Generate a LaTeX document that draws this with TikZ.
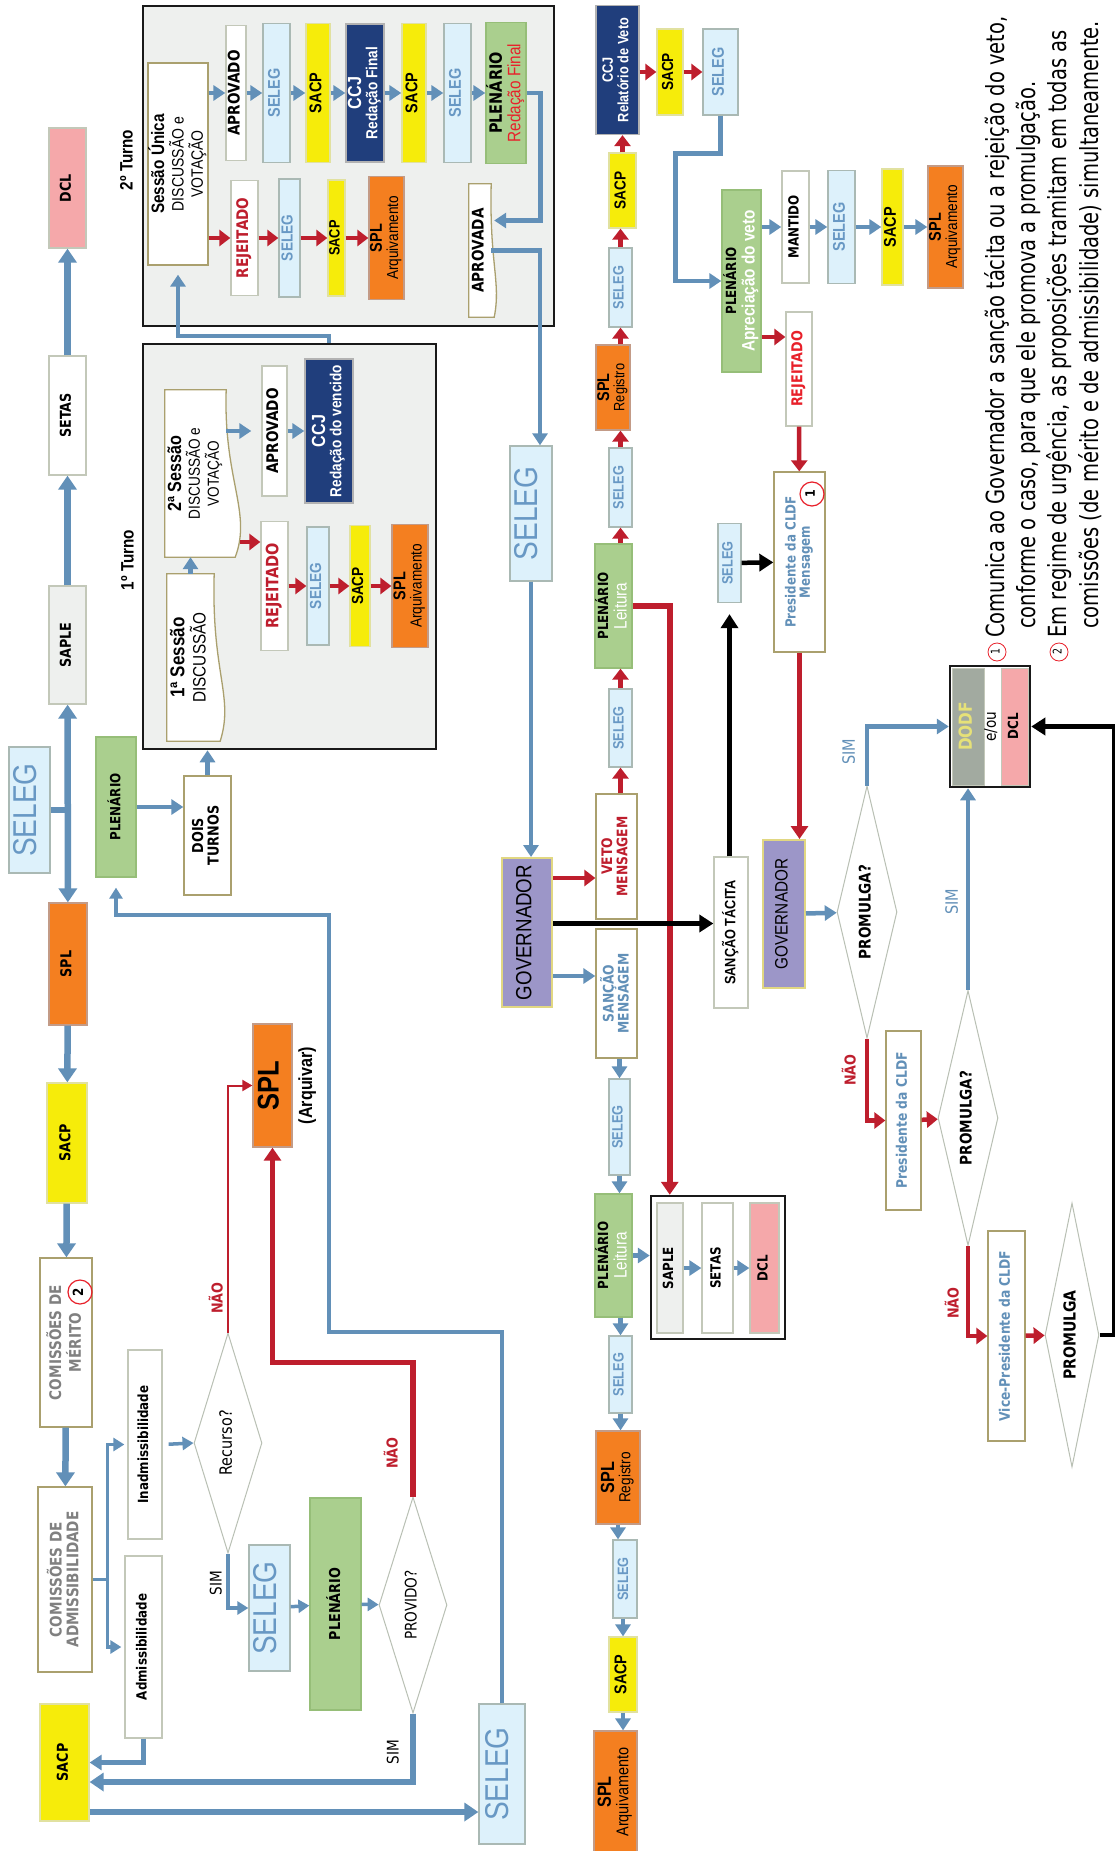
\documentclass[tikz,border=0pt]{standalone}
\usepackage{fontspec}
\usepackage{graphicx}
\setmainfont{Liberation Sans}[FakeStretch=0.85]
\newfontfamily\vrd{DejaVu Sans}[FakeStretch=0.85]
\newfontfamily\ftn{DejaVu Sans}[FakeStretch=0.78]
\usetikzlibrary{arrows.meta,shapes.geometric,calc}
\definecolor{cBl}{RGB}{98,144,184}
\definecolor{cRd}{RGB}{190,30,45}
\definecolor{cRdB}{RGB}{232,32,42}
\definecolor{selF}{RGB}{221,241,251}
\definecolor{selD}{RGB}{170,185,180}
\definecolor{selT}{RGB}{104,152,196}
\definecolor{sacF}{RGB}{246,236,10}
\definecolor{sacD}{RGB}{225,225,160}
\definecolor{splF}{RGB}{244,127,32}
\definecolor{splD}{RGB}{195,155,135}
\definecolor{dclF}{RGB}{245,168,170}
\definecolor{ccjF}{RGB}{32,62,124}
\definecolor{plF}{RGB}{170,207,142}
\definecolor{plD}{RGB}{150,190,120}
\definecolor{govF}{RGB}{156,150,200}
\definecolor{govD}{RGB}{225,215,130}
\definecolor{gryF}{RGB}{238,240,238}
\definecolor{olD}{RGB}{170,160,110}
\definecolor{gyD}{RGB}{195,200,185}
\definecolor{txG}{RGB}{128,128,128}
\definecolor{dodF}{RGB}{162,170,160}
\definecolor{dodT}{RGB}{230,225,120}
\definecolor{dmD}{RGB}{185,192,180}
\newcommand{\rt}[1]{\rotatebox{90}{\begin{tabular}{@{}c@{}}#1\end{tabular}}}
\newcommand{\fsz}[1]{\fontsize{#1}{#1}\selectfont}
\begin{document}
\begin{tikzpicture}[x=1pt,y=-1pt,
  sz/.style 2 args={minimum width=#1,minimum height=#2},
  vb/.style={font=\vrd\bfseries\fsz{#1}},
  cb/.style={font=\bfseries\fsz{#1}},
  cr/.style={font=\fsz{#1}},
  bx/.style={draw,inner sep=0pt,line width=1.3pt},
  sel/.style={bx,fill=selF,draw=selD,text=selT,cb=16},
  bigsel/.style={bx,fill=selF,draw=selD,text=selT,cr=33},
  sac/.style={bx,fill=sacF,draw=sacD,cb=16},
  spl/.style={bx,fill=splF,draw=splD},
  ccj/.style={bx,fill=ccjF,draw=gray!60,text=white},
  plen/.style={bx,fill=plF,draw=plD},
  gov/.style={bx,fill=govF,draw=govD,line width=2pt},
  wo/.style={bx,fill=white,draw=olD},
  wg/.style={bx,fill=white,draw=gyD},
  doc/.style={fill=white,draw=olD,line width=1.3pt},
  dmd/.style={diamond,draw=dmD,line width=1pt,fill=white,inner sep=0pt,shape aspect=0.3},
  turno/.style={draw=black!90,line width=2.5pt,inner sep=0pt},
  lbl/.style={inner sep=0pt},
  note/.style={rotate=90,anchor=west,inner sep=0pt,font=\ftn\fsz{25}},
  ba/.style={draw=cBl,line width=4.5pt,-{Triangle[length=12pt,width=15pt]}},
  bs/.style={draw=cBl,line width=3.5pt,-{Triangle[length=11pt,width=13pt]}},
  bA/.style={draw=cBl,line width=6.5pt,-{Triangle[length=14pt,width=18pt]}},
  ra/.style={draw=cRd,line width=4.5pt,-{Triangle[length=11pt,width=16pt]}},
  rA/.style={draw=cRd,line width=5.5pt,-{Triangle[length=13pt,width=17pt]}},
  ka/.style={draw=black,line width=4.5pt,-{Triangle[length=14pt,width=17pt]}}]
\fill[white] (0,0) rectangle (1115,1851);
\useasboundingbox (0,0) rectangle (1115,1851);
% left column
\node[bx,fill=dclF,draw=gyD,sz={37}{120},vb=15] (dclA) at (67.5,188) {\rt{DCL}};
\node[wg,sz={37}{119},vb=15] (setasA) at (67.5,415.5) {\rt{SETAS}};
\node[bx,fill=gryF,draw=gyD,sz={37}{118},vb=15] (sapleA) at (67.5,645) {\rt{SAPLE}};
\node[bigsel,sz={41}{126}] (selA) at (29.5,810) {\rt{SELEG}};
\node[spl,sz={38}{122},vb=15] (splA) at (68,964) {\rt{SPL}};
\node[sac,sz={40}{120},vb=15] (sacA) at (67,1143) {\rt{SACP}};
\node[wo,sz={52}{169},vb=16,text=txG] (merito) at (66,1342.5) {\rt{COMISSÕES DE\\MÉRITO}};
\node[circle,draw=cRdB,line width=1.2pt,inner sep=0pt,minimum size=24,vb=14] (n2) at (80,1292) {\rt{2}};
\node[wo,sz={54}{185},vb=16,text=txG] (admc) at (65,1579.5) {\rt{COMISSÕES DE\\ADMISSIBILIDADE}};
\node[wg,sz={34}{189},vb=14] (inadm) at (145,1444.5) {\rt{Inadmissibilidade}};
\node[wg,sz={37}{182},vb=14] (adm) at (143.5,1647) {\rt{Admissibilidade}};
\node[sac,sz={49}{117},vb=15] (sacB) at (64.5,1762.5) {\rt{SACP}};
\node[dmd,sz={68}{220},font=\vrd\fsz{17}] (rec) at (228,1443) {\rt{Recurso?}};
\node[bigsel,sz={41}{126}] (selB) at (269.5,1608) {\rt{SELEG}};
\node[plen,sz={51}{212},vb=15] (plB) at (335.5,1604) {\rt{PLENÁRIO}};
\node[dmd,sz={68}{216},font=\vrd\fsz{16}] (prov) at (413,1605) {\rt{PROVIDO?}};
\node[spl,sz={39}{123},cb=30] (splX) at (272.5,1085.5) {\rt{SPL}};
\node[lbl,cb=19] (arq) at (308,1085.5) {\rt{(Arquivar)}};
\node[bigsel,sz={46}{140}] (selC) at (502,1774) {\rt{SELEG}};
\node[plen,sz={40}{140},vb=14] (plA) at (116,807) {\rt{PLENÁRIO}};
\node[wo,sz={47}{119},vb=15] (dois) at (207.5,835.5) {\rt{DOIS\\TURNOS}};
\node[font=\vrd\fsz{16}] (simR) at (218,1583) {\rt{SIM}};
\node[vb=15,text=cRd] (naoR) at (218,1298) {\rt{NÃO}};
\node[vb=15,text=cRd] (naoP) at (393,1453) {\rt{NÃO}};
\node[font=\vrd\fsz{16}] (simP) at (395,1752) {\rt{SIM}};
% 1o turno
\node[turno,fill=gryF,sz={293}{405}] (t1) at (289.5,546.5) {};
\node[lbl,cb=18] (lt1) at (130,560) {\rt{1º Turno}};
\node[inner sep=0pt,sz={47}{167}] (s1) at (190.5,657.5) {};
\filldraw[doc] (s1.north west) -- (s1.north east) .. controls ($(s1.north east)+(-3,100)$) and ($(s1.south east)+(20,-45)$) .. ($(s1.south east)+(6,0)$) -- (s1.south west) -- cycle;
\node[cr=18] (s1t) at (s1) {\rt{\fsz{20}\bfseries 1ª Sessão\\DISCUSSÃO}};
\node[inner sep=0pt,sz={61}{167}] (s2) at (195.5,473.5) {};
\filldraw[doc] (s2.north west) -- (s2.north east) .. controls ($(s2.north east)+(-3,90)$) and ($(s2.south east)+(26,-45)$) .. ($(s2.south east)+(9,0)$) -- (s2.south west) -- cycle;
\node[cr=16] (s2t) at (s2) {\rt{\fsz{19}\bfseries 2ª Sessão\\DISCUSSÃO e\\VOTAÇÃO}};
\node[wg,sz={25}{130},vb=16] (ap1) at (274.5,431) {\rt{APROVADO}};
\node[ccj,sz={48}{144},cb=16] (ccj1) at (329,431) {\rt{\fsz{19}CCJ\\Redação do vencido}};
\node[wg,sz={27}{129},vb=17,text=cRd] (rj1) at (274.5,586) {\rt{REJEITADO}};
\node[sel,sz={22}{118}] (sl1) at (318,586) {\rt{SELEG}};
\node[sac,sz={20}{121}] (sc1) at (360,586) {\rt{SACP}};
\node[spl,sz={36}{123},cr=16] (sp1) at (410,586) {\rt{\bfseries\fsz{17}SPL\\Arquivamento}};
% 2o turno
\node[turno,fill=gryF,sz={411}{320}] (t2) at (348.5,166) {};
\node[lbl,cb=18] (lt2) at (129,160) {\rt{2º Turno}};
\node[wo,sz={58}{202},cr=16.5] (su) at (178,164) {\rt{\fsz{18}\bfseries Sessão Única\\DISCUSSÃO e\\VOTAÇÃO}};
\node[wg,sz={20}{135},vb=16] (ap2) at (236,93) {\rt{APROVADO}};
\node[sel,sz={27}{139},cb=17] (sl2) at (276.5,93) {\rt{SELEG}};
\node[sac,sz={24}{139},cb=17] (sc2) at (318,93) {\rt{SACP}};
\node[ccj,sz={38}{138},cb=16] (ccj2) at (365,93) {\rt{\fsz{19}CCJ\\Redação Final}};
\node[sac,sz={24}{139},cb=17] (sc3) at (414,93) {\rt{SACP}};
\node[sel,sz={27}{139},cb=17] (sl3) at (457.5,93) {\rt{SELEG}};
\node[plen,sz={40}{141},cr=18] (pl2) at (506,93) {\rt{\vrd\bfseries\fsz{17}PLENÁRIO\\\textcolor{cRdB}{Redação Final}}};
\node[wg,sz={27}{115},vb=16,text=cRd] (rj2) at (244.5,238) {\rt{REJEITADO}};
\node[sel,sz={21}{118}] (sl4) at (289.5,238) {\rt{SELEG}};
\node[sac,sz={17}{116},cb=15] (sc4) at (336.5,238) {\rt{SACP}};
\node[spl,sz={35}{123},cr=16] (sp2) at (386.5,238) {\rt{\bfseries\fsz{17}SPL\\Arquivamento}};
\node[inner sep=0pt,sz={22}{133}] (apv) at (480,250.5) {};
\filldraw[doc] (apv.north west) -- (apv.north east) .. controls ($(apv.north east)+(-2,80)$) and ($(apv.south east)+(10,-35)$) .. ($(apv.south east)+(3,0)$) -- (apv.south west) -- cycle;
\node[vb=16] (apvt) at (apv) {\rt{APROVADA}};
% governador and after
\node[bigsel,sz={42}{135}] (selM) at (531,513.5) {\rt{SELEG}};
\node[gov,sz={50}{149},cr=22] (govA) at (527,932.5) {\rt{GOVERNADOR}};
\node[wo,sz={41}{125},vb=14.5,text=cRd] (veto) at (616.5,856.5) {\rt{VETO\\MENSAGEM}};
\node[wg,sz={34}{151},cb=15] (tac) at (731,932.5) {\rt{SANÇÃO TÁCITA}};
\node[wo,sz={41}{129},vb=14.5,text=cBl] (sanc) at (616.5,993.5) {\rt{SANÇÃO\\MENSAGEM}};
\node[sel,sz={21}{96},cb=15] (slL1) at (619.5,1127) {\rt{SELEG}};
\node[plen,sz={35}{123},cr=18] (plL) at (613.5,1255.5) {\rt{\vrd\bfseries\fsz{14}PLENÁRIO\\\textcolor{white}{Leitura}}};
\node[turno,fill=white,sz={134}{143}] (grp) at (718,1267.5) {};
\node[bx,fill=gryF,draw=gyD,sz={26}{130},vb=14] (saple2) at (670,1268) {\rt{SAPLE}};
\node[wg,sz={31}{130},vb=14] (setas2) at (717.5,1268) {\rt{SETAS}};
\node[bx,fill=dclF,draw=gyD,sz={29}{130},vb=14] (dcl2) at (764.5,1268) {\rt{DCL}};
\node[sel,sz={23}{77},cb=15] (slL2) at (620.5,1374.5) {\rt{SELEG}};
\node[spl,sz={44}{93},cr=16] (spR) at (618,1477.5) {\rt{\bfseries\fsz{19}SPL\\Registro}};
\node[sel,sz={24}{78},cb=15] (slL3) at (625,1579) {\rt{SELEG}};
\node[sac,sz={28}{75},cb=17] (scL) at (623,1674.5) {\rt{SACP}};
\node[spl,sz={43}{122},cr=17] (spAq) at (615.5,1792) {\rt{\bfseries\fsz{19}SPL\\Arquivamento}};
% veto
\node[sel,sz={23}{78},cb=15] (slU1) at (620.5,728) {\rt{SELEG}};
\node[plen,sz={35}{124},cr=18] (plU) at (613.5,606) {\rt{\vrd\bfseries\fsz{14}PLENÁRIO\\\textcolor{white}{Leitura}}};
\node[sel,sz={23}{79},cb=15] (slU2) at (620.5,487.5) {\rt{SELEG}};
\node[spl,sz={34}{85},cr=15] (spRU) at (613,387.5) {\rt{\bfseries\fsz{17}SPL\\Registro}};
\node[sel,sz={23}{79},cb=15] (slU3) at (620.5,287.5) {\rt{SELEG}};
\node[sac,sz={27}{75},cb=16] (scU) at (622.5,190.5) {\rt{SACP}};
\node[ccj,sz={43}{129},cb=15] (ccjV) at (617.5,70) {\rt{CCJ\\Relatório de Veto}};
\node[sac,sz={26}{86},cb=16] (scV) at (670,72) {\rt{SACP}};
\node[sel,sz={35}{86},cb=17] (slV) at (720.5,72) {\rt{SELEG}};
\node[plen,sz={39}{182},cb=18] (plAp) at (741.5,281) {\rt{\vrd\fsz{14}PLENÁRIO\\\textcolor{white}{Apreciação do veto}}};
\node[wg,sz={27}{112},vb=14] (mant) at (795.5,227) {\rt{MANTIDO}};
\node[sel,sz={27}{113},cb=17] (slR) at (841.5,227) {\rt{SELEG}};
\node[sac,sz={21}{116},cb=17] (scR) at (892.5,227) {\rt{SACP}};
\node[spl,sz={35}{122},cr=16] (spR2) at (945.5,227) {\rt{\bfseries\fsz{17}SPL\\Arquivamento}};
\node[wg,sz={26}{114},vb=15,text=cRdB] (rjR) at (799,369) {\rt{REJEITADO}};
\node[wo,sz={51}{180},vb=14,text=cBl] (presA) at (799.5,562) {\rt{Presidente da CLDF\\Mensagem}};
\node[circle,draw=cRdB,line width=1.2pt,inner sep=0pt,minimum size=24,vb=13] (n1) at (812,494) {\rt{1}};
\node[sel,sz={23}{79},cb=15] (slP) at (729.5,563) {\rt{SELEG}};
\node[gov,sz={42}{148},cr=18] (govB) at (784,914) {\rt{GOVERNADOR}};
\node[dmd,sz={60}{252},vb=16] (pr1) at (867,912) {\rt{PROMULGA?}};
\node[turno,fill=white,sz={80}{121}] (dodf) at (990,726.5) {};
\node[bx,fill=dodF,draw=gyD,line width=0.8pt,sz={32}{117},vb=18,text=dodT] (dodfA) at (968,726.5) {\rt{DODF}};
\node[inner sep=0pt,sz={17}{117},font=\vrd\fsz{16}] (eou) at (992.5,726.5) {\rt{e/ou}};
\node[bx,fill=dclF,draw=gyD,line width=0.8pt,sz={27}{117},vb=14] (dcl3) at (1015,726.5) {\rt{DCL}};
\node[wo,sz={35}{179},vb=14.5,text=cBl] (presB) at (903.5,1120.5) {\rt{Presidente da CLDF}};
\node[dmd,sz={60}{255},vb=16] (pr2) at (968,1118) {\rt{PROMULGA?}};
\node[wo,sz={37}{210},vb=14.5,text=cBl] (vice) at (1006.5,1336) {\rt{Vice-Presidente da CLDF}};
\node[dmd,sz={54}{264},vb=16.5] (pr3) at (1072,1335) {\rt{PROMULGA}};
\node[font=\vrd\fsz{17},text=cBl] (sim1) at (851,752) {\rt{SIM}};
\node[font=\vrd\fsz{17},text=cBl] (sim2) at (954,902) {\rt{SIM}};
\node[vb=15,text=cRd] (nao1) at (851,1070) {\rt{NÃO}};
\node[vb=15,text=cRd] (nao2) at (954,1303) {\rt{NÃO}};
% notes
\node[note] (f1) at (997,638) {Comunica ao Governador a sanção tácita ou a rejeição do veto,};
\node[note] (f2) at (1028,629) {conforme o caso, para que ele promova a promulgação.};
\node[note] (f3) at (1059,638) {Em regime de urgência, as proposições tramitam em todas as};
\node[note] (f4) at (1090,629) {comissões (de mérito e de admissibilidade) simultaneamente.};
\node[circle,draw=cRdB,line width=0.8pt,inner sep=0pt,minimum size=18,font=\ftn\fsz{12}] (c1) at (997,652) {\rt{1}};
\node[circle,draw=cRdB,line width=0.8pt,inner sep=0pt,minimum size=18,font=\ftn\fsz{12}] (c2) at (1059,652) {\rt{2}};
% connectors, left part
\draw[bA] (setasA) -- (dclA);
\draw[bA] (sapleA) -- (setasA);
\draw[bA,{Triangle[length=14pt,width=18pt]}-{Triangle[length=14pt,width=18pt]}] (sapleA) -- (splA);
\draw[bA,-] (selA.east) -- (selA.east -| sapleA.south);
\draw[bA] (splA) -- (sacA);
\draw[bA] (sacA) -- (merito);
\draw[bA] (merito) -- (admc);
\coordinate (br) at ($(admc.east)+(15,0)$);
\draw[bs,-] (admc.east) -- (br);
\draw[bs,shorten >=3pt] (br) |- (inadm.west);
\draw[bs,shorten >=3pt] (br) |- (adm.west);
\draw[ba] (adm.south) |- (sacB.east);
\draw[bA] (prov.south) |- ($(sacB.east)+(0,19.5)$);
\coordinate (s3) at ($(sacB.east)+(0,49.5)$);
\draw[bA] (s3) -- (s3 -| selC.west);
\coordinate (k1) at (329,1332);
\coordinate (k2) at (329,915);
\draw[bs,shorten >=10pt] (selC.north) |- (k1) -- (k2) -| (plA.south);
\draw[bs,shorten <=6pt] (inadm.east) -- (rec.west);
\draw[bs] (rec.south) |- (selB.west);
\draw[cRd,line width=2pt,-{Triangle[length=10pt,width=11pt]}] (rec.north) |- (splX.west);
\draw[bs] (selB) -- (plB);
\draw[bs] (plB) -- (prov);
\draw[rA] (prov.north) -- ++(0,-134) -| (splX.south);
\draw[ba] (plA.east) -- (plA.east -| dois.west);
\draw[ba] (dois.north) -- (dois.north |- t1.south);
% turnos
\draw[ba] (s1.north) -- (s1.north |- s2.south);
\draw[ba,shorten >=10pt] (s2.east |- ap1) -- (ap1.west);
\draw[ba] (ap1) -- (ccj1);
\draw[ra] ($(rj1.west)+(-20,-44)$) -- ($(rj1.west)+(0,-44)$);
\foreach \a/\b in {rj1/sl1,sl1/sc1,sc1/sp1} \draw[ra] (\a) -- (\b);
\draw[ba,shorten >=9pt] (t1.north -| ccj1) -- ++(0,-7) -| (su.south);
\draw[ba] (su.east |- ap2) -- (ap2);
\foreach \a/\b in {ap2/sl2,sl2/sc2,sc2/ccj2,ccj2/sc3,sc3/sl3,sl3/pl2} \draw[ba] (\a) -- (\b);
\draw[ra] (su.east |- rj2) -- (rj2);
\foreach \a/\b in {rj2/sl4,sl4/sc4,sc4/sp2} \draw[ra] (\a) -- (\b);
\draw[ba] (pl2.east) -- ++(14,0) |- ($(apv.east)+(3,-30)$);
\draw[ba] (apv.east) -| ($(selM.north)+(9,0)$);
% governador
\draw[ba] (selM.south) -- (selM.south |- govA.north);
\coordinate (g1) at ($(govA.north east)+(0,21)$);
\coordinate (g2) at ($(govA.east)+(0,-9)$);
\coordinate (g3) at ($(govA.east)+(0,43.5)$);
\draw[ra] (g1) -- (g1 -| veto.west);
\draw[ba] (g3) -- (g3 -| sanc.west);
\draw[rA] (plU.east) -| ($(grp.north west)+(20,0)$);
\draw[ka] (g2) -- (g2 -| tac.west);
\draw[ba] (sanc.south -| slL1) -- (slL1.north);
\draw[ba] (slL1.south) -- (slL1.south |- plL.north);
\draw[ba] (plL.east) -- (plL.east -| grp.west);
\draw[ba] (saple2) -- (setas2);
\draw[ba] (setas2) -- (dcl2);
\draw[ba] (plL.south -| slL2) -- (slL2.north);
\draw[ba] (slL2.south) -- (slL2.south |- spR.north);
\draw[ba] (spR.south) -- (spR.south |- slL3.north);
\draw[ba] (slL3.south -| scL) -- (scL.north);
\draw[ba] (scL.south) -- (scL.south |- spAq.north);
% veto
\draw[ra] (veto.north -| slU1) -- (slU1.south);
\draw[ra] (slU1.north) -- (slU1.north |- plU.south);
\draw[ra] (plU.north -| slU2) -- (slU2.south);
\draw[ra] (slU2.north) -- (slU2.north |- spRU.south);
\draw[ra] (spRU.north -| slU3) -- (slU3.south);
\draw[ra] (slU3.north) -- (slU3.north |- scU.south);
\draw[ra] (scU.north) -- (scU.north |- ccjV.south);
\draw[ra] (ccjV.east |- scV) -- (scV.west);
\draw[ra] (scV) -- (slV);
\draw[ba] (slV.south) -- ++(0,38) -| ($(plAp.west)+(-46,0)$) -- (plAp.west);
\draw[ba] (plAp.east |- mant) -- (mant.west);
\foreach \a/\b in {mant/slR,slR/scR,scR/spR2} \draw[ba] (\a) -- (\b);
\draw[ra] ($(plAp.east)+(0,56)$) -- ($(rjR.west)+(0,-32)$);
\draw[ra] (rjR) -- (presA);
\draw[ka] (slP) -- (presA);
\draw[ka,shorten >=11pt] (tac.north -| slP) -- (slP.south);
\draw[rA] (presA.south) -- (presA.south |- govB.north);
% promulgacao
\draw[ba] (govB) -- (pr1);
\draw[ba] (pr1.north) |- (dodf.west);
\draw[ra] (pr1.south) |- (presB.west);
\draw[ra] (presB) -- (pr2);
\draw[ba] (pr2.north) -- (pr2.north |- dodf.south);
\draw[ra] (pr2.south) |- (vice.west);
\draw[ra] (vice) -- (pr3);
\draw[ka] (pr3.east) -- ++(15,0) |- (dodf.east);
\end{tikzpicture}
\end{document}
